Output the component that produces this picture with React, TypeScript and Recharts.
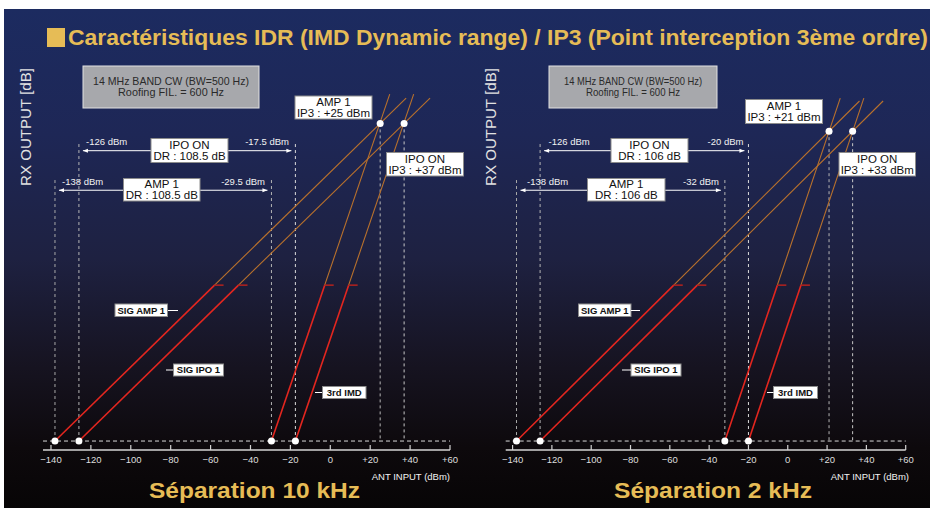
import React from "react";
import { LineChart, Line, XAxis, YAxis, ReferenceLine, ReferenceDot } from "recharts";

type Pt = { x: number; y: number };

const xTicks = [-140, -120, -100, -80, -60, -40, -20, 0, 20, 40, 60];

// Séparation 10 kHz (ANT INPUT dBm): AMP 1, IPO ON
const floorIn10 = [-138, -126];
const imdIn10 = [-29.5, -17.5];
const ip3In10 = [25, 37];
const ip3Out10 = 25;

// Séparation 2 kHz
const floorIn2 = [-138, -126];
const imdIn2 = [-32, -20];
const ip3In2 = [21, 33];
const ip3Out2 = 21;

const noiseOut = -138; // dashed noise floor level
const barAmpY = -9.3; // DR arrows / dashed tops (annotation heights)
const barIpoY = 11;
const topAmpY = -4;
const topIpoY = 15;

// each line: floor point, end of measured (red) part, top of extrapolation
const sigAmp10: Pt[] = [{ x: -138, y: -138 }, { x: -58, y: -58 }, { x: 38, y: 38 }];
const sigIpo10: Pt[] = [{ x: -126, y: -138 }, { x: -46, y: -58 }, { x: 50, y: 38 }];
const imdAmp10: Pt[] = [{ x: -29.5, y: -138 }, { x: -2.8, y: -58 }, { x: 29.8, y: 40 }];
const imdIpo10: Pt[] = [{ x: -17.5, y: -138 }, { x: 9.2, y: -58 }, { x: 41.8, y: 40 }];

const sigAmp2: Pt[] = [{ x: -138, y: -138 }, { x: -58, y: -58 }, { x: 36.5, y: 36.5 }];
const sigIpo2: Pt[] = [{ x: -126, y: -138 }, { x: -46, y: -58 }, { x: 48.5, y: 36.5 }];
const imdAmp2: Pt[] = [{ x: -32, y: -138 }, { x: -5.3, y: -58 }, { x: 26.7, y: 38 }];
const imdIpo2: Pt[] = [{ x: -20, y: -138 }, { x: 6.7, y: -58 }, { x: 38.7, y: 38 }];

const FONT = "'Liberation Sans', Arial, Helvetica, sans-serif";
const GOLD = "#e6bc56";
const RED = "#e3261f";
const ORANGE = "#b9712c";
const AXIS = "#d4d4d4";

const AxisTick = (props: any) => {
  const { x, y, payload } = props;
  const v = payload.value as number;
  const label = v > 0 ? `+${v}` : v < 0 ? `\u2212${Math.abs(v)}` : "0";
  return (
    <g>
      <line x1={x} x2={x} y1={y - 5} y2={y} stroke={AXIS} strokeWidth={1.2} />
      <text x={x} y={y + 13} textAnchor="middle" fontSize={9.5} fill="#dedede" fontFamily={FONT}>
        {label}
      </text>
    </g>
  );
};

const ArrowSeg = (p: any) => {
  const { x1, y1, x2 } = p;
  const a = Math.min(x1, x2) + 4;
  const b = Math.max(x1, x2) - 4;
  return (
    <g>
      <line x1={a} y1={y1} x2={b} y2={y1} stroke="#fff" strokeWidth={1} />
      <path d={`M${a},${y1} l5,-2 v4 z`} fill="#fff" />
      <path d={`M${b},${y1} l-5,-2 v4 z`} fill="#fff" />
    </g>
  );
};

const RedTick = (p: any) => (
  <line x1={p.cx} x2={p.cx + 9} y1={p.cy} y2={p.cy} stroke="#b3221e" strokeWidth={1.5} />
);

interface PanelProps {
  left: number;
  marginLeft: number;
  marginRight: number;
  xDomain: [number, number];
  floors: number[];
  imds: number[];
  ip3In: number[];
  ip3Out: number;
  lines: Pt[][];
}

function Panel({ left, marginLeft, marginRight, xDomain, floors, imds, ip3In, ip3Out, lines }: PanelProps) {
  const dash = "3 3";
  return (
    <div style={{ position: "absolute", left, top: 0 }}>
      <LineChart
        width={465}
        height={508}
        margin={{ top: 63, right: marginRight, bottom: 38, left: marginLeft }}
      >
        <XAxis
          type="number"
          dataKey="x"
          domain={xDomain}
          ticks={xTicks}
          interval={0}
          allowDataOverflow
          height={20}
          tickSize={0}
          tickMargin={0}
          tickLine={false}
          tick={<AxisTick />}
          axisLine={{ stroke: AXIS, strokeWidth: 1.5 }}
        />
        <YAxis
          type="number"
          dataKey="y"
          domain={[-142.6, 56]}
          allowDataOverflow
          width={0}
          tick={false}
          tickLine={false}
          axisLine={{ stroke: AXIS, strokeWidth: 1.5 }}
        />
        <ReferenceLine y={noiseOut} stroke="#d8d8d8" strokeDasharray="4 3" strokeWidth={1} />
        <ReferenceLine segment={[{ x: floors[0], y: noiseOut }, { x: floors[0], y: topAmpY }]} stroke="#a9a9a9" strokeDasharray={dash} />
        <ReferenceLine segment={[{ x: floors[1], y: noiseOut }, { x: floors[1], y: topIpoY }]} stroke="#b5b5b5" strokeDasharray={dash} />
        <ReferenceLine segment={[{ x: imds[0], y: noiseOut }, { x: imds[0], y: topAmpY }]} stroke="#b5b5b5" strokeDasharray={dash} />
        <ReferenceLine segment={[{ x: imds[1], y: noiseOut }, { x: imds[1], y: topIpoY }]} stroke="#dcdcdc" strokeDasharray={dash} />
        <ReferenceLine segment={[{ x: ip3In[0], y: ip3Out }, { x: ip3In[0], y: noiseOut }]} stroke="#b5b5b5" strokeDasharray={dash} />
        <ReferenceLine segment={[{ x: ip3In[1], y: ip3Out }, { x: ip3In[1], y: noiseOut }]} stroke="#c8c8c8" strokeDasharray={dash} />
        <ReferenceLine segment={[{ x: floors[1], y: barIpoY }, { x: imds[1], y: barIpoY }]} shape={ArrowSeg} />
        <ReferenceLine segment={[{ x: floors[0], y: barAmpY }, { x: imds[0], y: barAmpY }]} shape={ArrowSeg} />
        {lines.map((pts, i) => (
          <Line
            key={`o${i}`}
            data={pts.slice(1)}
            dataKey="y"
            type="linear"
            stroke={ORANGE}
            strokeWidth={1.1}
            dot={false}
            activeDot={false}
            isAnimationActive={false}
          />
        ))}
        {lines.map((pts, i) => (
          <Line
            key={`r${i}`}
            data={pts.slice(0, 2)}
            dataKey="y"
            type="linear"
            stroke={RED}
            strokeWidth={1.6}
            dot={false}
            activeDot={false}
            isAnimationActive={false}
          />
        ))}
        {lines.map((pts, i) => (
          <ReferenceDot key={`t${i}`} x={pts[1].x} y={pts[1].y} shape={RedTick} />
        ))}
        {[...floors, ...imds].map((v, i) => (
          <ReferenceDot key={`f${i}`} x={v} y={noiseOut} r={3.5} fill="#ffffff" stroke="none" />
        ))}
        {ip3In.map((v, i) => (
          <ReferenceDot key={`p${i}`} x={v} y={ip3Out} r={3.5} fill="#ffffff" stroke="none" />
        ))}
      </LineChart>
    </div>
  );
}

interface BoxProps {
  x: number;
  y: number;
  w: number;
  h: number;
  lines: string[];
  size?: number;
  gap?: number;
  fill?: string;
  stroke?: string;
  color?: string;
  bold?: boolean;
  fit?: number[];
}

function Box({ x, y, w, h, lines, size = 11.5, gap = 11.5, fill = "#ffffff", stroke = "#8c8c8c", color = "#111", bold, fit }: BoxProps) {
  const cy = y + h / 2;
  const start = cy - ((lines.length - 1) * gap) / 2;
  return (
    <g>
      <rect x={x} y={y} width={w} height={h} fill={fill} stroke={stroke} strokeWidth={1} />
      {lines.map((t, i) => (
        <text
          key={i}
          x={x + w / 2}
          y={start + i * gap + size * 0.36}
          textAnchor="middle"
          fontSize={size}
          fontWeight={bold ? 700 : 400}
          fill={color}
          fontFamily={FONT}
          textLength={fit ? fit[i] : undefined}
          lengthAdjust="spacingAndGlyphs"
        >
          {t}
        </text>
      ))}
    </g>
  );
}

const small = { fontSize: 9.5, fill: "#f2f2f2", fontFamily: FONT };

function Overlay() {
  return (
    <svg width={930} height={508} style={{ position: "absolute", left: 0, top: 0, pointerEvents: "none" }}>
      {/* title */}
      <rect x={47} y={28} width={18} height={19} fill={GOLD} />
      <text x={68} y={45} fontSize={21.5} fontWeight={700} fill={GOLD} fontFamily={FONT} textLength={860} lengthAdjust="spacingAndGlyphs">
        Caractéristiques IDR (IMD Dynamic range) / IP3 (Point interception 3ème ordre)
      </text>

      {/* axis titles */}
      <text transform="translate(31,127) rotate(-90)" textAnchor="middle" fontSize={15} fill="#e2e2e2" fontFamily={FONT} textLength={118} lengthAdjust="spacingAndGlyphs">
        RX OUTPUT [dB]
      </text>
      <text transform="translate(496,127) rotate(-90)" textAnchor="middle" fontSize={15} fill="#e2e2e2" fontFamily={FONT} textLength={118} lengthAdjust="spacingAndGlyphs">
        RX OUTPUT [dB]
      </text>
      <text x={450} y={480} textAnchor="end" {...small}>ANT INPUT (dBm)</text>
      <text x={909} y={480} textAnchor="end" {...small}>ANT INPUT (dBm)</text>

      {/* subtitles */}
      <text x={149} y={498} fontSize={22} fontWeight={700} fill={GOLD} fontFamily={FONT} textLength={211} lengthAdjust="spacingAndGlyphs">
        Séparation 10 kHz
      </text>
      <text x={614} y={498} fontSize={22} fontWeight={700} fill={GOLD} fontFamily={FONT} textLength={198} lengthAdjust="spacingAndGlyphs">
        Séparation 2 kHz
      </text>

      {/* left panel annotations */}
      <Box x={83} y={66} w={176} h={42} gap={11} fill="#a7a8ac" stroke="#e2e2e2" color="#2a2a2a" size={11} lines={["14 MHz BAND CW (BW=500 Hz)", "Roofing FIL. = 600 Hz"]} fit={[156, 106]} />
      <Box x={295} y={96} w={77} h={23} lines={["AMP 1", "IP3 : +25 dBm"]} />
      <Box x={386.5} y={152.5} w={77} h={23.5} lines={["IPO ON", "IP3 : +37 dBm"]} />
      <Box x={151} y={138.5} w={77} h={24} lines={["IPO ON", "DR : 108.5 dB"]} />
      <Box x={123.5} y={178.5} w={76.5} h={22.5} gap={11} lines={["AMP 1", "DR : 108.5 dB"]} />
      <text x={86} y={145} {...small}>-126 dBm</text>
      <text x={289} y={145} textAnchor="end" {...small}>-17.5 dBm</text>
      <text x={62} y={184.5} {...small}>-138 dBm</text>
      <text x={265} y={184.5} textAnchor="end" {...small}>-29.5 dBm</text>

      <Box x={115} y={304} w={52.5} h={12.5} size={9.5} bold lines={["SIG AMP 1"]} />
      <line x1={168} x2={178} y1={310.5} y2={310.5} stroke="#fff" />
      <Box x={173.5} y={364} w={50} h={12} size={9.5} bold lines={["SIG IPO 1"]} />
      <line x1={166} x2={173} y1={370} y2={370} stroke="#fff" />
      <Box x={322.5} y={386.5} w={43.5} h={12} size={9.5} bold lines={["3rd IMD"]} />
      <line x1={315} x2={322} y1={392.5} y2={392.5} stroke="#fff" />

      {/* right panel annotations */}
      <Box x={549} y={66} w={168} h={42} gap={11} fill="#a7a8ac" stroke="#e2e2e2" color="#2a2a2a" size={11} lines={["14 MHz BAND CW (BW=500 Hz)", "Roofing FIL. = 600 Hz"]} fit={[138, 94]} />
      <Box x={745.5} y={99.5} w={77} h={24} lines={["AMP 1", "IP3 : +21 dBm"]} />
      <Box x={839} y={152.5} w={76.5} h={23.5} lines={["IPO ON", "IP3 : +33 dBm"]} />
      <Box x={611} y={138.5} w={77} h={24} lines={["IPO ON", "DR : 106 dB"]} />
      <Box x={587.5} y={178.5} w={77.5} h={22.5} gap={11} lines={["AMP 1", "DR : 106 dB"]} />
      <text x={548.5} y={145} {...small}>-126 dBm</text>
      <text x={743.5} y={145} textAnchor="end" {...small}>-20 dBm</text>
      <text x={527} y={184.5} {...small}>-138 dBm</text>
      <text x={719} y={184.5} textAnchor="end" {...small}>-32 dBm</text>

      <Box x={578.5} y={304} w={52.5} h={12.5} size={9.5} bold lines={["SIG AMP 1"]} />
      <line x1={631} x2={640} y1={310.5} y2={310.5} stroke="#fff" />
      <Box x={631} y={364} w={50} h={12} size={9.5} bold lines={["SIG IPO 1"]} />
      <line x1={622} x2={631} y1={370} y2={370} stroke="#fff" />
      <Box x={773.5} y={386.5} w={44} h={12} size={9.5} bold lines={["3rd IMD"]} />
      <line x1={767} x2={773.5} y1={392.5} y2={392.5} stroke="#fff" />
    </svg>
  );
}

export default function App() {
  return (
    <div style={{ position: "fixed", left: 0, top: 0, width: 930, height: 508, background: "#ffffff", overflow: "hidden", fontFamily: FONT }}>
      <div
        style={{
          position: "absolute",
          left: 4,
          top: 9,
          width: 926,
          height: 499,
          background: "linear-gradient(180deg, #1c2b60 0%, #1e2756 25%, #1e2141 50%, #161320 72%, #0d090c 88%, #070506 100%)",
        }}
      />
      <Panel
        left={0}
        marginLeft={43}
        marginRight={15}
        xDomain={[-144, 60]}
        floors={floorIn10}
        imds={imdIn10}
        ip3In={ip3In10}
        ip3Out={ip3Out10}
        lines={[sigAmp10, sigIpo10, imdAmp10, imdIpo10]}
      />
      <Panel
        left={465}
        marginLeft={40.7}
        marginRight={24.3}
        xDomain={[-143.5, 60]}
        floors={floorIn2}
        imds={imdIn2}
        ip3In={ip3In2}
        ip3Out={ip3Out2}
        lines={[sigAmp2, sigIpo2, imdAmp2, imdIpo2]}
      />
      <Overlay />
    </div>
  );
}
